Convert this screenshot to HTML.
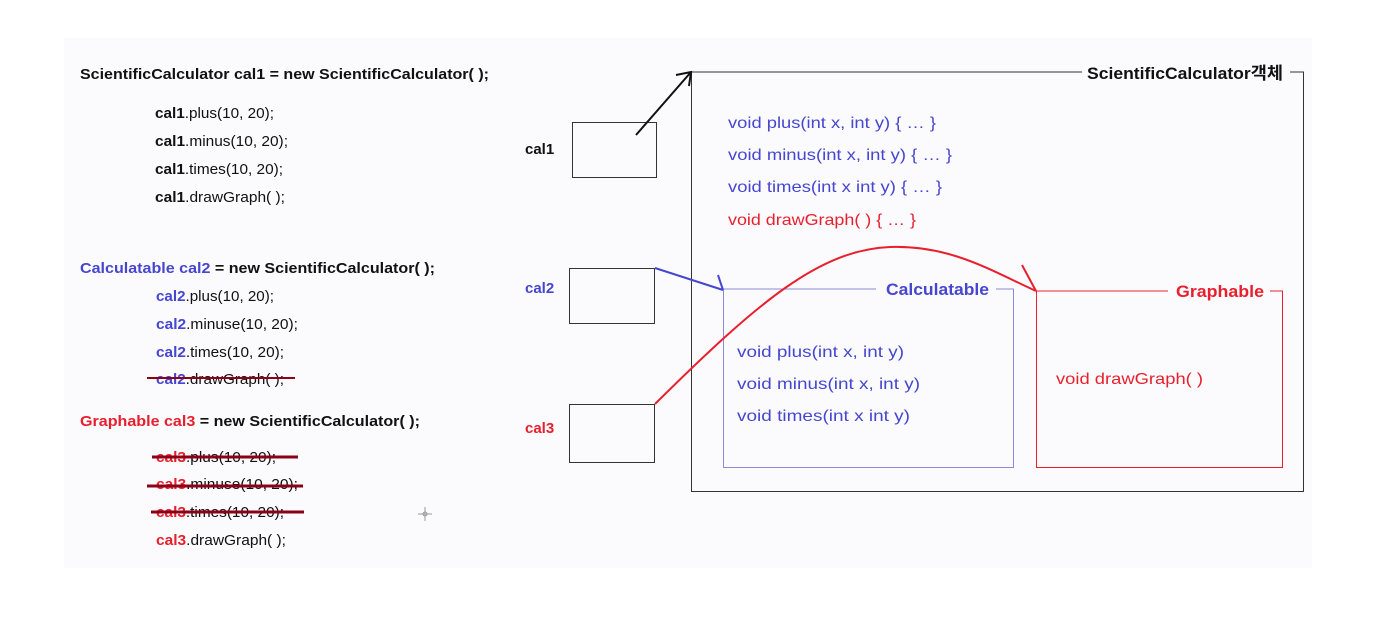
<!DOCTYPE html>
<html><head><meta charset="utf-8"><style>
html,body{margin:0;padding:0;background:#fff;}
body{width:1380px;height:613px;overflow:hidden;position:relative;font-family:"Liberation Sans","Noto Sans CJK KR",sans-serif;}
svg text{font-family:"Liberation Sans","Noto Sans CJK KR",sans-serif;}
</style></head><body>
<svg width="1380" height="613" xmlns="http://www.w3.org/2000/svg">
<rect x="0" y="0" width="1380" height="613" fill="#fff"/>
<rect x="64" y="38" width="1248" height="530" fill="#fbfbfd"/>
<g font-size="15" fill="#111">
<text x="80" y="79" font-weight="bold" textLength="409" lengthAdjust="spacingAndGlyphs">ScientificCalculator cal1 = new ScientificCalculator( );</text>
<text x="155" y="118" textLength="119" lengthAdjust="spacingAndGlyphs"><tspan font-weight="bold">cal1</tspan>.plus(10, 20);</text>
<text x="155" y="146" textLength="133" lengthAdjust="spacingAndGlyphs"><tspan font-weight="bold">cal1</tspan>.minus(10, 20);</text>
<text x="155" y="174" textLength="128" lengthAdjust="spacingAndGlyphs"><tspan font-weight="bold">cal1</tspan>.times(10, 20);</text>
<text x="155" y="202" textLength="130" lengthAdjust="spacingAndGlyphs"><tspan font-weight="bold">cal1</tspan>.drawGraph( );</text>
</g>
<g font-size="15" fill="#111">
<text x="80" y="273" font-weight="bold" textLength="355" lengthAdjust="spacingAndGlyphs"><tspan fill="#4646d0">Calculatable cal2</tspan> = new ScientificCalculator( );</text>
<text x="156" y="301" textLength="118" lengthAdjust="spacingAndGlyphs"><tspan fill="#4646d0" font-weight="bold">cal2</tspan>.plus(10, 20);</text>
<text x="156" y="329" textLength="142" lengthAdjust="spacingAndGlyphs"><tspan fill="#4646d0" font-weight="bold">cal2</tspan>.minuse(10, 20);</text>
<text x="156" y="357" textLength="128" lengthAdjust="spacingAndGlyphs"><tspan fill="#4646d0" font-weight="bold">cal2</tspan>.times(10, 20);</text>
<text x="156" y="384" textLength="128" lengthAdjust="spacingAndGlyphs"><tspan fill="#4646d0" font-weight="bold">cal2</tspan>.drawGraph( );</text>
<line x1="147" y1="378" x2="295" y2="378" stroke="#8b0018" stroke-width="2"/>
</g>
<g font-size="15" fill="#111">
<text x="80" y="426" font-weight="bold" textLength="340" lengthAdjust="spacingAndGlyphs"><tspan fill="#e8202e">Graphable cal3</tspan> = new ScientificCalculator( );</text>
<text x="156" y="462" textLength="120" lengthAdjust="spacingAndGlyphs"><tspan fill="#e8202e" font-weight="bold">cal3</tspan>.plus(10, 20);</text>
<text x="156" y="489" textLength="142" lengthAdjust="spacingAndGlyphs"><tspan fill="#e8202e" font-weight="bold">cal3</tspan>.minuse(10, 20);</text>
<text x="156" y="517" textLength="128" lengthAdjust="spacingAndGlyphs"><tspan fill="#e8202e" font-weight="bold">cal3</tspan>.times(10, 20);</text>
<text x="156" y="545" textLength="130" lengthAdjust="spacingAndGlyphs"><tspan fill="#e8202e" font-weight="bold">cal3</tspan>.drawGraph( );</text>
<line x1="152" y1="457" x2="298" y2="457" stroke="#8b0018" stroke-width="3"/>
<line x1="147" y1="486" x2="303" y2="486" stroke="#8b0018" stroke-width="3"/>
<line x1="151" y1="512" x2="304" y2="512" stroke="#8b0018" stroke-width="3"/>
</g>
<g stroke="#999" stroke-width="1"><line x1="418" y1="514" x2="432" y2="514"/><line x1="425" y1="507" x2="425" y2="521"/><circle cx="425" cy="514" r="2" fill="none"/></g>
<g font-size="15" font-weight="bold">
<text x="525" y="154" fill="#111">cal1</text>
<text x="525" y="293" fill="#4646d0">cal2</text>
<text x="525" y="433" fill="#e8202e">cal3</text>
</g>
<g fill="none" stroke="#333" stroke-width="1">
<rect x="572.5" y="122.5" width="84" height="55"/>
<rect x="569.5" y="268.5" width="85" height="55"/>
<rect x="569.5" y="404.5" width="85" height="58"/>
</g>
<path d="M1082 72 H691.5 V491.5 H1303.5 V72 H1290" fill="none" stroke="#333" stroke-width="1"/>
<text x="1087" y="79" font-size="17" font-weight="bold" fill="#111" textLength="196" lengthAdjust="spacingAndGlyphs">ScientificCalculator객체</text>
<g font-size="16">
<text x="728" y="128" fill="#4646d0" textLength="208" lengthAdjust="spacingAndGlyphs">void plus(int x, int y) { … }</text>
<text x="728" y="160" fill="#4646d0" textLength="224" lengthAdjust="spacingAndGlyphs">void minus(int x, int y) { … }</text>
<text x="728" y="192" fill="#4646d0" textLength="214" lengthAdjust="spacingAndGlyphs">void times(int x int y) { … }</text>
<text x="728" y="225" fill="#e8202e" textLength="188" lengthAdjust="spacingAndGlyphs">void drawGraph( ) { … }</text>
</g>
<path d="M876 289 H723.5 V467.5 H1013.5 V289 H996" fill="none" stroke="#8a8ad8" stroke-width="1"/>
<text x="886" y="295" font-size="17" font-weight="bold" fill="#4646d0" textLength="103" lengthAdjust="spacingAndGlyphs">Calculatable</text>
<g font-size="16" fill="#4646d0">
<text x="737" y="357" textLength="167" lengthAdjust="spacingAndGlyphs">void plus(int x, int y)</text>
<text x="737" y="389" textLength="183" lengthAdjust="spacingAndGlyphs">void minus(int x, int y)</text>
<text x="737" y="421" textLength="173" lengthAdjust="spacingAndGlyphs">void times(int x int y)</text>
</g>
<path d="M1168 291 H1036.5 V467.5 H1282.5 V291 H1270" fill="none" stroke="#e8202e" stroke-width="1"/>
<text x="1176" y="297" font-size="17" font-weight="bold" fill="#e8202e" textLength="88" lengthAdjust="spacingAndGlyphs">Graphable</text>
<text x="1056" y="384" font-size="16" fill="#e8202e" textLength="147" lengthAdjust="spacingAndGlyphs">void drawGraph( )</text>
<g fill="none" stroke-width="2">
<path d="M636 135 L691 72 M676 75 L691 72 L689 86" stroke="#111"/>
<path d="M655 268 L723 290 M718 275 L723 290" stroke="#4646d0"/>
<path d="M655 404 C760 300 820 250 890 247 C950 245 990 270 1036 291 M1022 265 L1036 291" stroke="#e8202e"/>
</g>
</svg>
</body></html>
